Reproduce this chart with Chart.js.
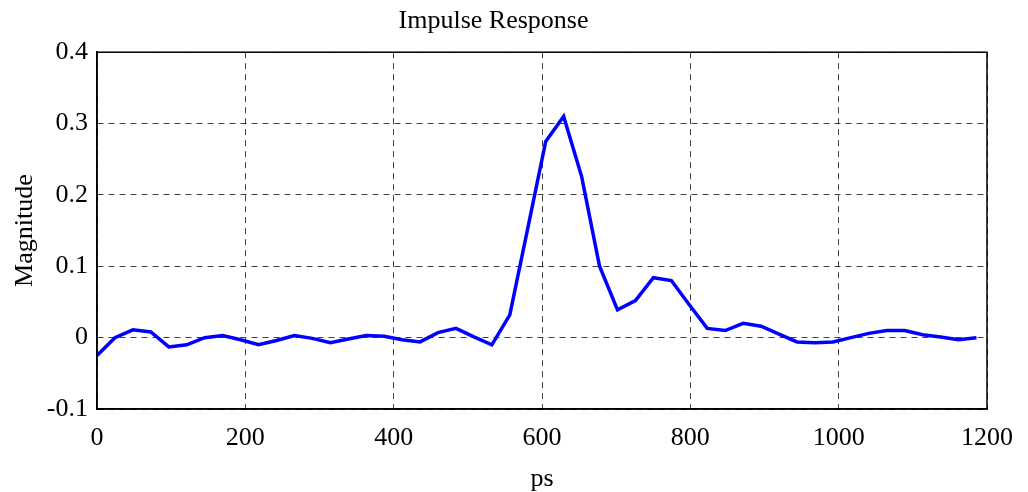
<!DOCTYPE html>
<html>
<head>
<meta charset="utf-8">
<title>Impulse Response</title>
<script src="https://cdn.jsdelivr.net/npm/chart.js@4/dist/chart.umd.min.js"></script>
<style>
  html, body { margin: 0; padding: 0; background: #fff; }
  #wrap { width: 1028px; height: 492px; position: relative; }
</style>
</head>
<body>
<div id="wrap"><canvas id="irChart"></canvas></div>
<script>
// sample times (ps) and measured magnitude
const timesPs = [
  0, 24.2, 48.4, 72.6, 96.8, 121.0, 145.2, 169.4, 193.6, 217.8,
  242.0, 266.2, 290.4, 314.6, 338.8, 363.0, 387.2, 411.4, 435.6, 459.8,
  484.0, 508.2, 532.4, 556.6, 580.8, 605.0, 629.2, 653.4, 677.6, 701.8,
  726.0, 750.2, 774.4, 798.6, 822.8, 847.0, 871.2, 895.4, 919.6, 943.8,
  968.0, 992.2, 1016.4, 1040.6, 1064.8, 1089.0, 1113.2, 1137.4, 1161.6, 1185.8
];
const magnitude = [
  -0.025, 0.000, 0.011, 0.008, -0.013, -0.010, 0.000, 0.003, -0.003, -0.010,
  -0.004, 0.003, -0.001, -0.007, -0.002, 0.003, 0.002, -0.003, -0.006, 0.007,
  0.013, 0.001, -0.010, 0.032, 0.153, 0.275, 0.310, 0.226, 0.100, 0.039,
  0.052, 0.084, 0.080, 0.046, 0.013, 0.010, 0.020, 0.016, 0.005, -0.006,
  -0.007, -0.006, 0.000, 0.006, 0.010, 0.010, 0.004, 0.001, -0.003, 0.000
];
const xTicks = [0, 200, 400, 600, 800, 1000, 1200];
const yTicks = [-0.1, 0, 0.1, 0.2, 0.3, 0.4];

const FONT = "'Liberation Serif', 'Times New Roman', serif";

// closed box around the plot area (top/right edges)
const boxPlugin = {
  id: "plotBox",
  afterDraw(chart){
    const a = chart.chartArea;
    const ctx = chart.ctx;
    ctx.save();
    ctx.strokeStyle = "#000";
    ctx.lineWidth = 1.5;
    ctx.strokeRect(a.left, a.top, a.right - a.left, a.bottom - a.top);
    ctx.restore();
  }
};

const points = timesPs.map((t, i) => ({ x: t, y: magnitude[i] }));

const gridStyle = {
  color: "rgba(0,0,0,0.75)",
  lineWidth: 1,
  drawTicks: false
};

new Chart(document.getElementById("irChart"), {
  type: "line",
  data: {
    datasets: [{
      label: "Impulse Response",
      data: points,
      borderColor: "#0000ff",
      borderWidth: 3.5,
      pointRadius: 0,
      tension: 0,
      fill: false
    }]
  },
  options: {
    responsive: true,
    maintainAspectRatio: false,
    animation: false,
    layout: { padding: { left: 0, right: 41, top: 0, bottom: 0 } },
    plugins: {
      legend: { display: false },
      tooltip: { enabled: false },
      title: {
        display: true,
        text: "Impulse Response",
        color: "#000",
        font: { family: FONT, size: 26, weight: "normal" },
        padding: { top: 6, bottom: 15 }
      }
    },
    scales: {
      x: {
        type: "linear",
        min: 0,
        max: 1200,
        afterBuildTicks: s => { s.ticks = xTicks.map(v => ({ value: v })); },
        afterFit: s => { s.height = 83; },
        ticks: {
          color: "#000",
          padding: 14,
          maxRotation: 0,
          font: { family: FONT, size: 26 },
          callback: v => String(v)
        },
        grid: gridStyle,
        border: { display: true, color: "#000", width: 1.5, dash: [6, 5] },
        title: {
          display: true,
          text: "ps",
          color: "#000",
          font: { family: FONT, size: 26, lineHeight: 1.0 },
          padding: { top: 0, bottom: 0 }
        }
      },
      y: {
        type: "linear",
        min: -0.1,
        max: 0.4,
        afterBuildTicks: s => { s.ticks = yTicks.map(v => ({ value: v })); },
        afterFit: s => { s.width = 97; },
        ticks: {
          color: "#000",
          padding: 9,
          font: { family: FONT, size: 26 },
          callback: v => String(parseFloat(Number(v).toFixed(1)))
        },
        grid: gridStyle,
        border: { display: true, color: "#000", width: 1.5, dash: [6, 5] },
        title: {
          display: true,
          text: "Magnitude",
          color: "#000",
          font: { family: FONT, size: 26 },
          padding: { top: 10, bottom: 0 }
        }
      }
    }
  },
  plugins: [boxPlugin]
});
</script>
</body>
</html>
